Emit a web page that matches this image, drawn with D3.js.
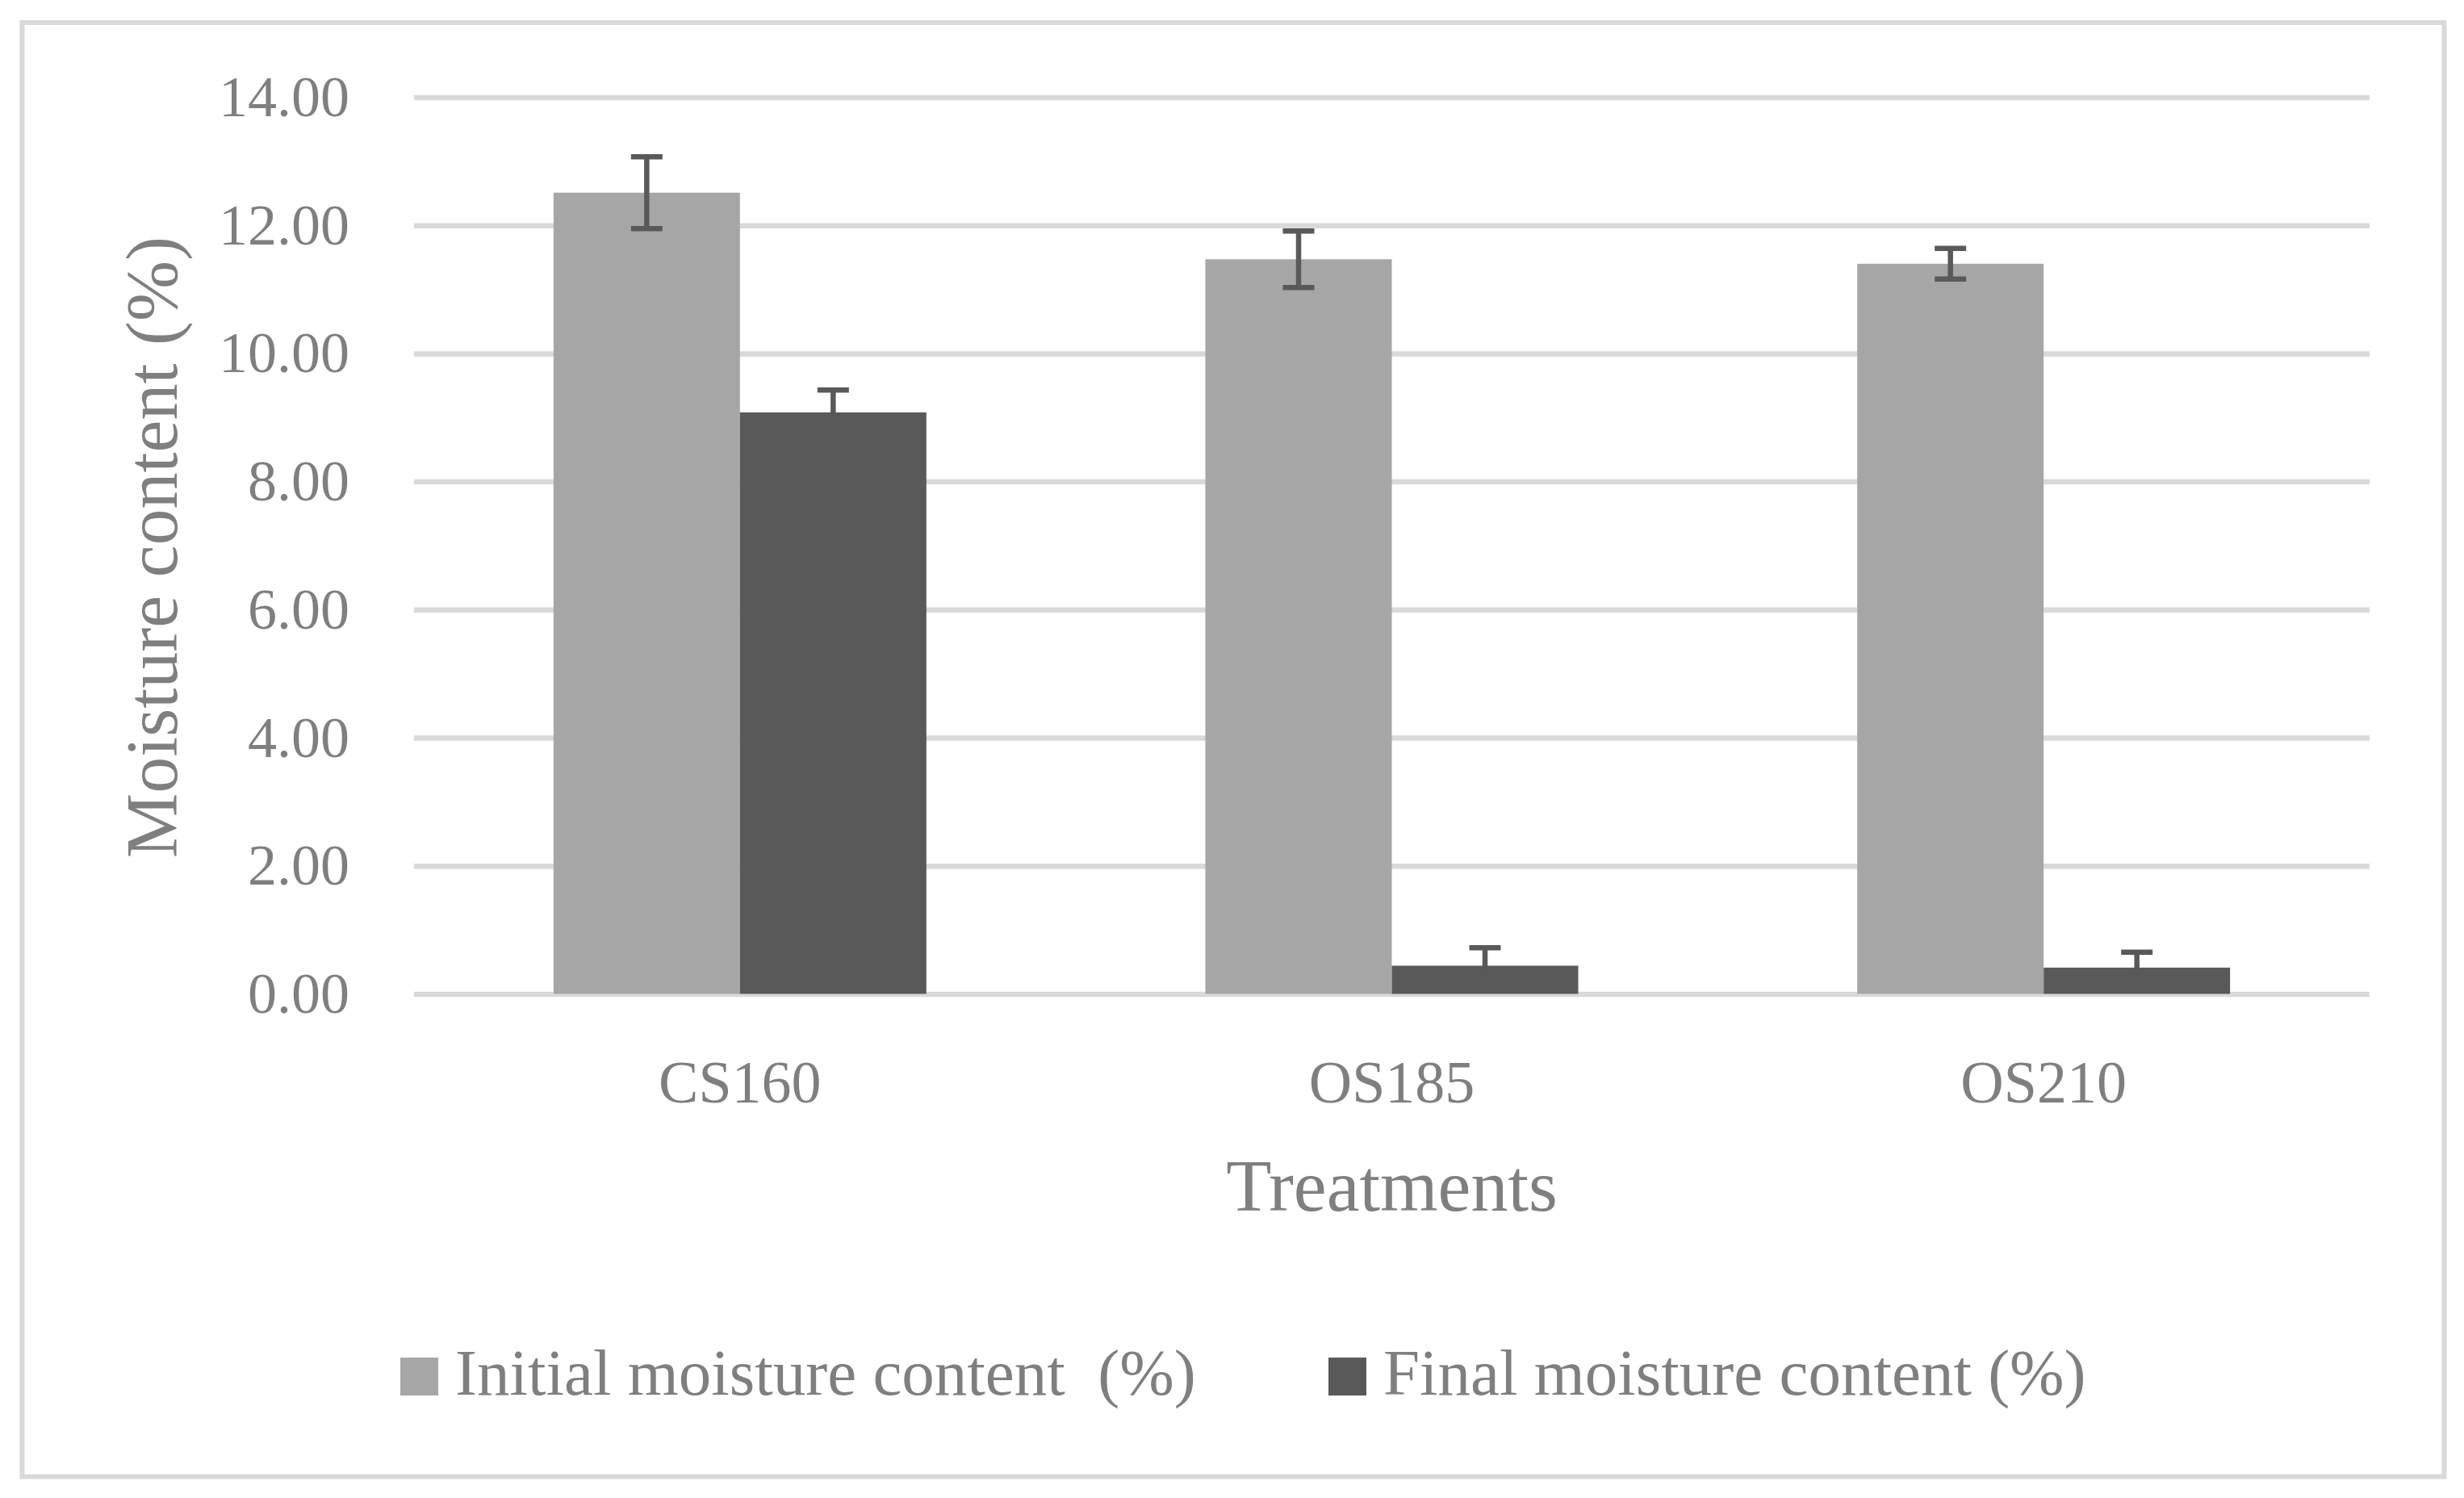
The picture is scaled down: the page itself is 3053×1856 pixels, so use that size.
<!DOCTYPE html>
<html lang="en">
<head>
    <meta charset="UTF-8">
    <title>Moisture content by treatment</title>
    <style>
body {
    margin: 0;
    background-color: white;
}

text {
    font-family: "Liberation Serif", "DejaVu Serif", serif;
    fill: #7f7f7f;
}

.grid line {
    stroke: #d9d9d9;
    stroke-width: 6.5;
}

.err {
    stroke: #595959;
    stroke-width: 6.5;
}
    </style>
</head>
<body>
    <svg id="chart"></svg>
    <script src="https://d3js.org/d3.v7.min.js"></script>
    <script>
// data
const categories = ["CS160", "OS185", "OS210"];
const seriesNames = ["Initial moisture content  (%)", "Final moisture content (%)"];
const initialValues = [12.51, 11.47, 11.40];
const initialErrors = [0.56, 0.44, 0.24];
const finalValues = [9.08, 0.44, 0.41];
const finalErrors = [0.35, 0.28, 0.24];
const yTicks = [0, 2, 4, 6, 8, 10, 12, 14];
const colors = ["#a6a6a6", "#595959"];

const width = 3053;
const height = 1856;

const svg = d3.select("#chart")
    .attr("width", width)
    .attr("height", height);

// outer frame
svg.append("rect")
    .attr("x", 27.5)
    .attr("y", 28)
    .attr("width", 3001)
    .attr("height", 1801.5)
    .attr("fill", "white")
    .attr("stroke", "#d9d9d9")
    .attr("stroke-width", 6);

const plot = { left: 513, right: 2936, top: 120.5, bottom: 1231.4 };

const x0 = d3.scaleBand()
    .domain(categories)
    .range([plot.left, plot.right])
    .paddingInner(0.428)
    .paddingOuter(0.214);

const x1 = d3.scaleBand()
    .domain(seriesNames)
    .range([0, x0.bandwidth()]);

const y = d3.scaleLinear()
    .domain([0, 14])
    .range([plot.bottom, plot.top]);

// y axis with gridlines
const yAxis = svg.append("g")
    .attr("class", "grid")
    .attr("transform", `translate(${plot.left},0)`)
    .call(d3.axisLeft(y)
        .tickValues(yTicks)
        .tickFormat(d3.format(".2f"))
        .tickSize(-(plot.right - plot.left))
        .tickPadding(80));
yAxis.select(".domain").remove();
yAxis.selectAll("text")
    .attr("font-size", 72)
    .attr("font-family", null)
    .attr("fill", null);

// rows: one per category
const rows = categories.map((c, i) => ({
    category: c,
    values: [
        { name: seriesNames[0], value: initialValues[i], err: initialErrors[i] },
        { name: seriesNames[1], value: finalValues[i], err: finalErrors[i] }
    ]
}));

const groups = svg.append("g")
    .selectAll("g")
    .data(rows)
    .enter().append("g")
    .attr("transform", d => `translate(${x0(d.category)},0)`);

groups.selectAll("rect")
    .data(d => d.values)
    .enter().append("rect")
    .attr("x", d => x1(d.name))
    .attr("y", d => y(d.value))
    .attr("width", x1.bandwidth())
    .attr("height", d => y(0) - y(d.value))
    .attr("fill", (d, i) => colors[i]);

// error bars
const capHalf = 19.5;
const errs = groups.selectAll("g.errbar")
    .data(d => d.values)
    .enter().append("g")
    .attr("class", "errbar")
    .attr("transform", d => `translate(${x1(d.name) + x1.bandwidth() / 2},0)`);

errs.append("line")
    .attr("class", "err")
    .attr("y1", d => y(d.value + d.err))
    .attr("y2", d => y(d.value - d.err));

errs.append("line")
    .attr("class", "err")
    .attr("x1", -capHalf).attr("x2", capHalf)
    .attr("y1", d => y(d.value + d.err))
    .attr("y2", d => y(d.value + d.err));

errs.append("line")
    .attr("class", "err")
    .attr("x1", -capHalf).attr("x2", capHalf)
    .attr("y1", d => y(d.value - d.err))
    .attr("y2", d => y(d.value - d.err));

// x axis
const xAxis = svg.append("g")
    .attr("transform", `translate(0,${plot.bottom})`)
    .call(d3.axisBottom(x0).tickSize(0).tickPadding(82));
xAxis.select(".domain").remove();
xAxis.selectAll("text")
    .attr("font-size", 74)
    .attr("font-family", null)
    .attr("fill", null);

// axis titles
svg.append("text")
    .attr("x", (plot.left + plot.right) / 2)
    .attr("y", 1500)
    .attr("text-anchor", "middle")
    .attr("font-size", 92)
    .text("Treatments");

svg.append("text")
    .attr("transform", "translate(219,678) rotate(-90)")
    .attr("text-anchor", "middle")
    .attr("font-size", 90)
    .text("Moisture content (%)");

// legend
const legendX = [496, 1646];
const legend = svg.append("g")
    .selectAll("g")
    .data(seriesNames)
    .enter().append("g")
    .attr("transform", (d, i) => `translate(${legendX[i]},1682)`);

legend.append("rect")
    .attr("width", 47)
    .attr("height", 47)
    .attr("fill", (d, i) => colors[i]);

legend.append("text")
    .attr("x", 68)
    .attr("y", 46)
    .attr("font-size", 81)
    .style("white-space", "pre")
    .text(d => d);
    </script>
</body>
</html>
